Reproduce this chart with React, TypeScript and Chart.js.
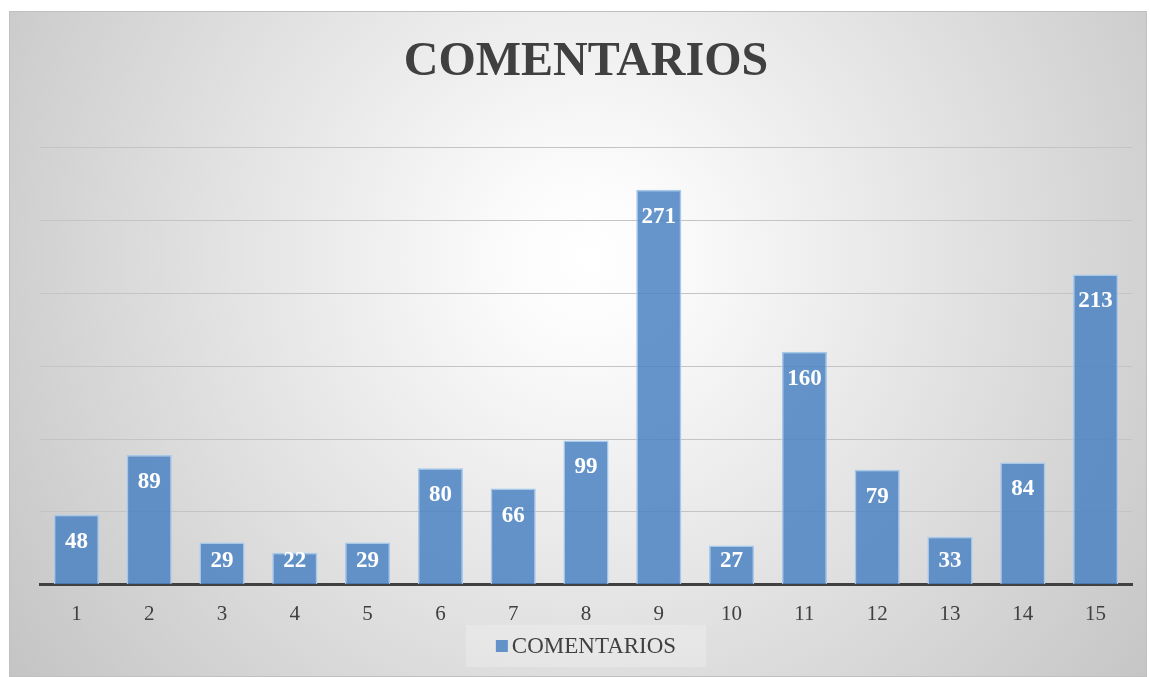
import React, { useEffect, useRef } from "react";
import { Chart, registerables } from "chart.js";

Chart.register(...registerables);

const categories: string[] = ["1", "2", "3", "4", "5", "6", "7", "8", "9", "10", "11", "12", "13", "14", "15"];
const comentarios: number[] = [48, 89, 29, 22, 29, 80, 66, 99, 271, 27, 160, 79, 33, 84, 213];
const seriesName = "COMENTARIOS";
const chartTitle = "COMENTARIOS";
const yMax = 300;
const yStep = 50;

const SERIF = "'Liberation Serif', 'Times New Roman', serif";
const BAR_FILL = "rgba(75,130,195,0.85)";
const BAR_BORDER = "rgba(165,200,235,1)";

const dataLabelPlugin = {
  id: "dataLabels",
  afterDatasetsDraw(chart: any) {
    const ctx = chart.ctx;
    const meta = chart.getDatasetMeta(0);
    const base = chart.scales.y.getPixelForValue(0);
    ctx.save();
    ctx.fillStyle = "#ffffff";
    ctx.font = `bold 23px ${SERIF}`;
    ctx.textAlign = "center";
    ctx.textBaseline = "middle";
    meta.data.forEach((bar: any, i: number) => {
      const y = Math.min(bar.y + 27, base - 24);
      ctx.fillText(String(comentarios[i]), bar.x, y);
    });
    ctx.restore();
  },
};

const customLegendPlugin = {
  id: "customLegend",
  afterDraw(chart: any) {
    const ctx = chart.ctx;
    const cx = (chart.chartArea.left + chart.chartArea.right) / 2;
    const cy = 634;
    ctx.save();
    ctx.font = `23px ${SERIF}`;
    const tw = ctx.measureText(seriesName).width;
    const box = 12;
    const gap = 4;
    const total = box + gap + tw;
    const x0 = cx - total / 2;
    ctx.fillStyle = "rgba(255,255,255,0.22)";
    ctx.fillRect(x0 - 30, cy - 21, total + 60, 42);
    ctx.fillStyle = BAR_FILL;
    ctx.fillRect(x0, cy - box / 2, box, box);
    ctx.fillStyle = "#404040";
    ctx.textAlign = "left";
    ctx.textBaseline = "middle";
    ctx.fillText(seriesName, x0 + box + gap, cy + 1);
    ctx.restore();
  },
};

export default function App() {
  const canvasRef = useRef<HTMLCanvasElement | null>(null);

  useEffect(() => {
    if (!canvasRef.current) return;
    const chart = new Chart(canvasRef.current, {
      type: "bar",
      data: {
        labels: categories,
        datasets: [
          {
            label: seriesName,
            data: comentarios,
            backgroundColor: BAR_FILL,
            borderColor: BAR_BORDER,
            borderWidth: 1.5,
            categoryPercentage: 1,
            barPercentage: 0.62,
          },
        ],
      },
      options: {
        animation: false,
        responsive: true,
        maintainAspectRatio: false,
        layout: { padding: { left: 30, right: 14, top: 0, bottom: 32 } },
        plugins: {
          title: {
            display: true,
            text: chartTitle,
            color: "#404040",
            font: { family: SERIF, size: 48, weight: "bold", lineHeight: 1.2 },
            padding: { top: 22, bottom: 56 },
          },
          legend: { display: false },
          tooltip: { enabled: false },
        },
        scales: {
          x: {
            grid: { display: false, drawTicks: false },
            border: { display: true, color: "#404040", width: 3 },
            ticks: {
              color: "#404040",
              font: { family: SERIF, size: 21 },
              padding: 17,
            },
          },
          y: {
            min: 0,
            max: yMax,
            grid: { color: "#c4c4c4", lineWidth: 1, drawTicks: false },
            border: { display: false },
            ticks: { display: false, stepSize: yStep },
          },
        },
      },
      plugins: [dataLabelPlugin, customLegendPlugin],
    });
    return () => chart.destroy();
  }, []);

  return (
    <div
      style={{
        position: "absolute",
        left: 9,
        top: 11,
        width: 1138,
        height: 666,
        boxSizing: "border-box",
        border: "1px solid #c0c0c0",
        background:
          "radial-gradient(circle farthest-corner at 51% 37%, #ffffff 0%, #fbfbfb 12%, #c4c4c4 100%)",
      }}
    >
      <canvas ref={canvasRef} style={{ display: "block", width: "100%", height: "100%" }} />
    </div>
  );
}
